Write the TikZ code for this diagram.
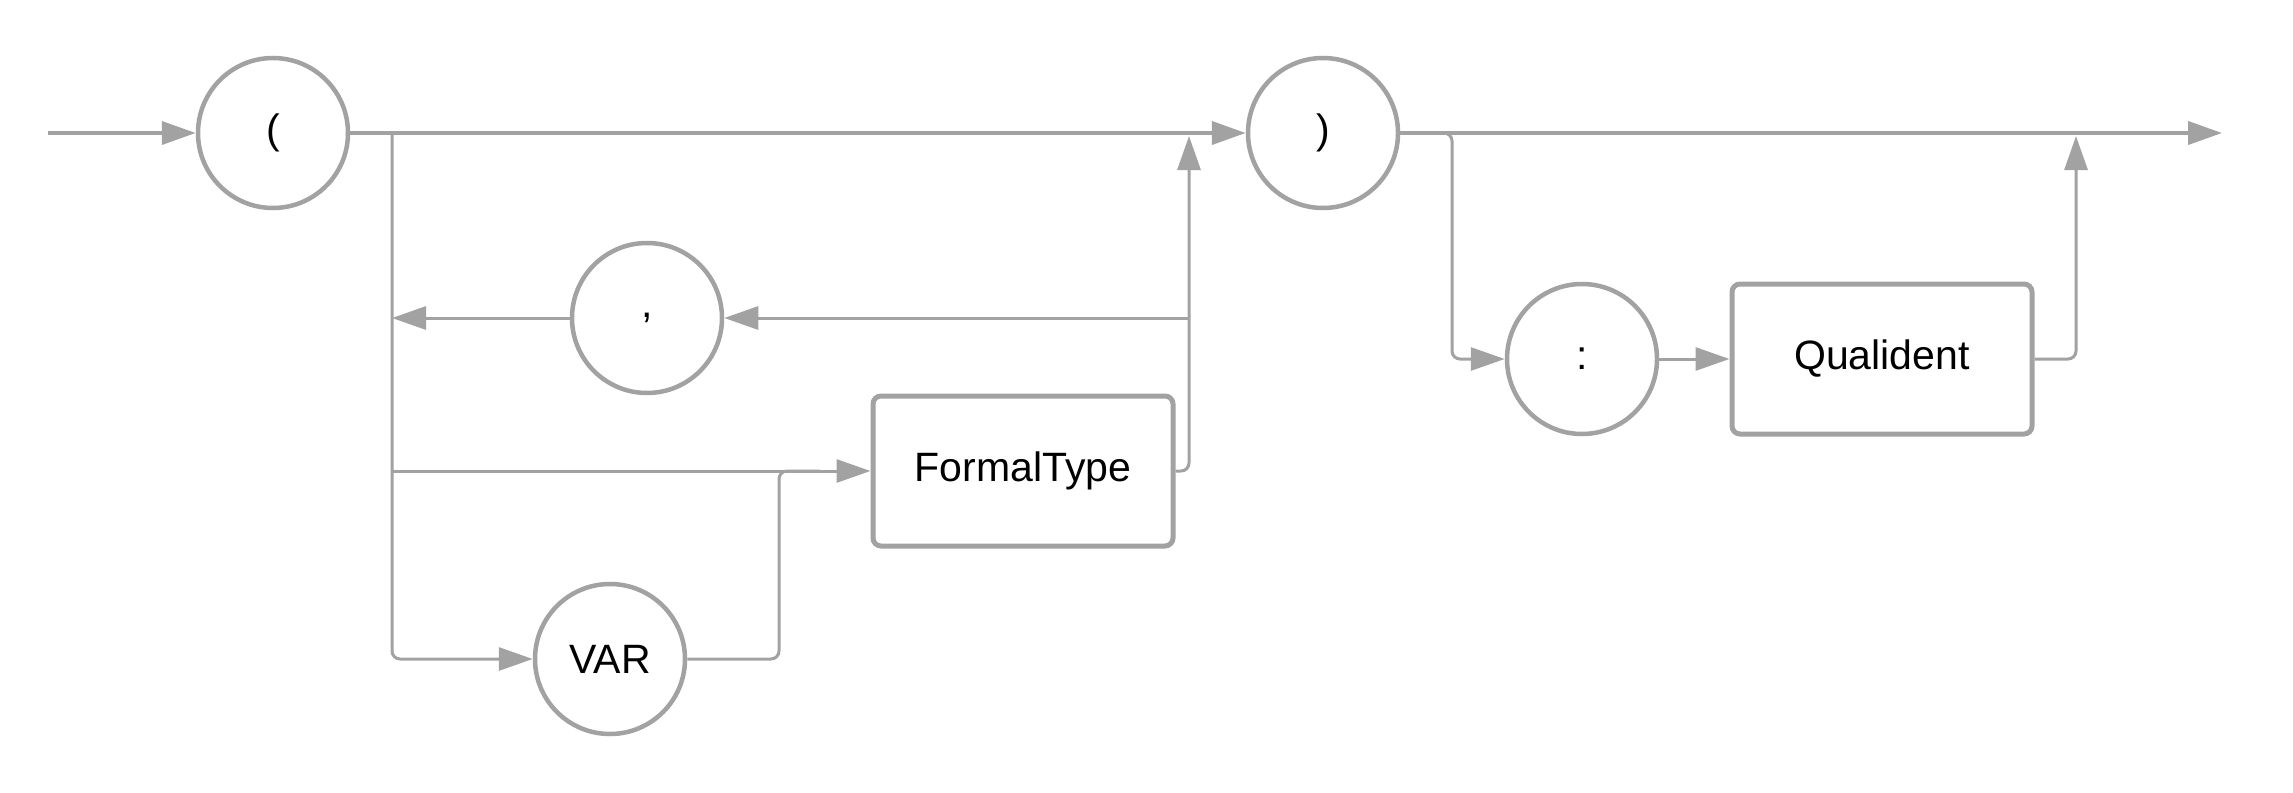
\documentclass[tikz,border=0pt]{standalone}
\usepackage{fontspec}
\setmainfont{Liberation Sans}
\usetikzlibrary{arrows.meta}
\definecolor{lg}{RGB}{162,162,162}
\begin{document}
\begin{tikzpicture}[x=1pt,y=-1pt,
  term/.style={circle, draw=lg, line width=4.5pt, minimum size=150pt, inner sep=0pt, font=\fontsize{41}{48}\selectfont},
  nonterm/.style={rectangle, rounded corners=8pt, draw=lg, line width=5pt, minimum width=300pt, minimum height=150pt, inner sep=0pt, font=\fontsize{41}{48}\selectfont},
  conn/.style={draw=lg, line width=4pt},
  br/.style={draw=lg, line width=3pt},
  arr/.style={-{Triangle[length=34pt,width=23pt]}}
]
\useasboundingbox (0,0) rectangle (2293,792);
% nodes
\node[term] (lp) at (273,133) {(};
\node[term] (rp) at (1323,133) {)};
\node[term] (comma) at (647,318) {,};
\node[term] (var) at (610,659) {VAR};
\node[term] (colon) at (1582,359) {:};
\node[nonterm] (ft) at (1023,471) {FormalType};
\node[nonterm] (qi) at (1882,359) {Qualident};
% coordinates
\coordinate (start) at (48,133);
\coordinate (end) at (2222,133);
\coordinate (ja) at (392,133);
\coordinate (jb) at (1189,136);
\coordinate (jc) at (1452,359);
\coordinate (jd) at (2076,136);
\coordinate (ca) at (392,318);
\coordinate (cb) at (1189,318);
\coordinate (fa) at (392,471);
\coordinate (vb) at (779,471);
\coordinate (vc) at (820,471);
% connectors
\draw[conn,arr] (start) -- (lp);
\draw[conn,arr] (lp) -- (rp);
\draw[conn,arr] (rp) -- (end);
\draw[br,rounded corners=8pt,arr] (ja) |- (var);
\draw[br,arr] (fa) -- (ft);
\draw[br,rounded corners=8pt] (var) -| (vb) -- (vc);
\draw[br,rounded corners=8pt,arr] (ft) -| (jb);
\draw[br,arr] (cb) -- (comma);
\draw[br,arr] (comma) -- (ca);
\draw[br,rounded corners=8pt,arr] (rp.east) -| (jc) -- (colon);
\draw[br,arr] (colon) -- (qi);
\draw[br,rounded corners=8pt,arr] (qi) -| (jd);
\end{tikzpicture}
\end{document}
